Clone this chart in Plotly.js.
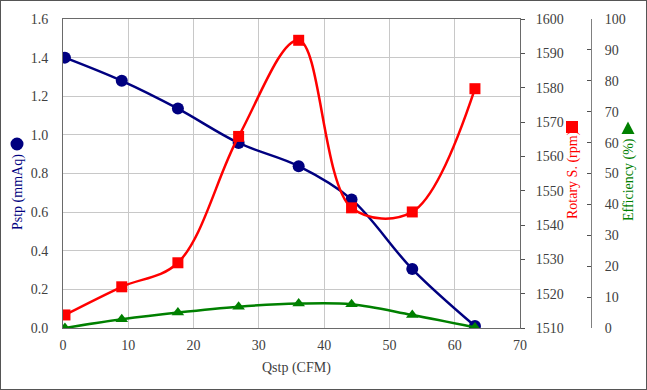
<!DOCTYPE html>
<html>
<head>
<meta charset="utf-8">
<script src="https://cdn.plot.ly/plotly-3.0.1.min.js"></script>
<style>
html,body{margin:0;padding:0;background:#fff;}
#wrap{position:relative;width:647px;height:390px;}
#chart{width:647px;height:390px;}
#frame{position:absolute;left:0;top:0;width:647px;height:390px;box-sizing:border-box;border:1px solid #555;pointer-events:none;}
</style>
</head>
<body>
<div id="wrap"><div id="chart"></div><div id="frame"></div></div>
<script>
// Data
const qstp = [0.3, 9.0, 17.6, 26.9, 36.1, 44.2, 53.5, 63.1];
const pstp = [1.40, 1.28, 1.136, 0.958, 0.838, 0.666, 0.305, 0.01];
const rotary = [1513.8, 1522.0, 1529.0, 1565.8, 1593.8, 1545.0, 1543.8, 1579.7];
const efficiency = [0, 2.8, 5.0, 6.9, 7.9, 7.7, 4.2, 0.2];

const xTicks = [0, 10, 20, 30, 40, 50, 60, 70];
const pTicks = [0, 0.2, 0.4, 0.6, 0.8, 1.0, 1.2, 1.4, 1.6];
const rTicks = [1510, 1520, 1530, 1540, 1550, 1560, 1570, 1580, 1590, 1600];
const eTicks = [0, 10, 20, 30, 40, 50, 60, 70, 80, 90, 100];

const NAVY = '#000080', RED = '#ff0000', GREEN = '#008000';
const FONT = 'Liberation Serif';
const tf = () => ({family: FONT, size: 14, color: '#404040'});

const traces = [
  {x: qstp, y: pstp, yaxis: 'y', type: 'scatter', mode: 'lines+markers', name: 'Pstp',
   line: {color: NAVY, width: 2.5, shape: 'spline', smoothing: 1},
   marker: {symbol: 'circle', size: 12, color: NAVY}},
  {x: qstp, y: rotary, yaxis: 'y2', type: 'scatter', mode: 'lines+markers', name: 'Rotary S.',
   line: {color: RED, width: 2.5, shape: 'spline', smoothing: 1},
   marker: {symbol: 'square', size: 11, color: RED}},
  {x: qstp, y: efficiency, yaxis: 'y3', type: 'scatter', mode: 'lines+markers', name: 'Efficiency',
   line: {color: GREEN, width: 2.5, shape: 'spline', smoothing: 1},
   marker: {symbol: 'triangle-up', size: 11, color: GREEN}}
];

const L = 63, R = 47, T = 19, B = 62, W = 647, H = 390;
const PW = W - L - R, PH = H - T - B;
const px = v => (v - L) / PW;
const py = v => (H - B - v) / PH;

const layout = {
  width: W, height: H,
  margin: {l: L, r: R, t: T, b: B, pad: 0},
  paper_bgcolor: '#fff', plot_bgcolor: '#fff',
  showlegend: false,
  font: {family: FONT, size: 14, color: '#404040'},
  xaxis: {
    domain: [0, (520 - L) / PW], range: [0, 70], tickvals: xTicks, ticktext: xTicks.map(String),
    showgrid: true, gridcolor: '#c8c8c8', gridwidth: 1, zeroline: false,
    showline: true, linecolor: '#6a6a6a', linewidth: 1, mirror: true,
    ticks: '', ticklabelstandoff: 4, tickfont: tf()
  },
  yaxis: {
    range: [0, 1.6], tickvals: pTicks, ticktext: pTicks.map(v => v.toFixed(1)),
    showgrid: true, gridcolor: '#c8c8c8', gridwidth: 1, zeroline: false,
    showline: true, linecolor: '#6a6a6a', linewidth: 1, mirror: true,
    ticks: '', ticklabelstandoff: 11, tickfont: tf()
  },
  yaxis2: {
    overlaying: 'y', side: 'right', anchor: 'x', range: [1510, 1600],
    tickvals: rTicks, ticktext: rTicks.map(String),
    showgrid: false, zeroline: false, showline: false,
    ticks: 'outside', ticklen: 4, tickcolor: '#505050', ticklabelstandoff: 8, tickfont: tf()
  },
  yaxis3: {
    overlaying: 'y', side: 'right', anchor: 'free', position: (591 - L) / PW, range: [0, 100],
    tickvals: eTicks, ticktext: eTicks.map(String),
    showgrid: false, zeroline: false, showline: true, linecolor: '#808080', linewidth: 1,
    ticks: 'inside', ticklen: 4, tickcolor: '#505050', ticklabelstandoff: 10, tickfont: tf()
  },
  annotations: [
    {text: 'Qstp (CFM)', xref: 'paper', yref: 'paper', x: px(296), y: py(368), showarrow: false,
     xanchor: 'center', yanchor: 'middle', font: {family: FONT, size: 14, color: '#404040'}},
    {text: 'Pstp (mmAq)', xref: 'paper', yref: 'paper', x: px(18), y: py(192), showarrow: false,
     textangle: -90, xanchor: 'center', yanchor: 'middle', font: {family: FONT, size: 14, color: NAVY}},
    {text: 'Rotary S. (rpm)', xref: 'paper', yref: 'paper', x: px(573), y: py(175), showarrow: false,
     textangle: -90, xanchor: 'center', yanchor: 'middle', font: {family: FONT, size: 14, color: RED}},
    {text: 'Efficiency (%)', xref: 'paper', yref: 'paper', x: px(629), y: py(180), showarrow: false,
     textangle: -90, xanchor: 'center', yanchor: 'middle', font: {family: FONT, size: 14, color: GREEN}}
  ],
  shapes: [
    {type: 'circle', xref: 'paper', yref: 'paper', xsizemode: 'pixel', ysizemode: 'pixel',
     xanchor: px(17), yanchor: py(144), x0: -6.5, x1: 6.5, y0: -6.5, y1: 6.5,
     fillcolor: NAVY, line: {width: 0}},
    {type: 'rect', xref: 'paper', yref: 'paper', xsizemode: 'pixel', ysizemode: 'pixel',
     xanchor: px(572), yanchor: py(127), x0: -6, x1: 6, y0: -6, y1: 6,
     fillcolor: RED, line: {width: 0}},
    {type: 'path', xref: 'paper', yref: 'paper', xsizemode: 'pixel', ysizemode: 'pixel',
     xanchor: px(628), yanchor: py(128), path: 'M -6.5 -6 L 6.5 -6 L 0 6.5 Z',
     fillcolor: GREEN, line: {width: 0}}
  ]
};

Plotly.newPlot('chart', traces, layout, {displayModeBar: false, staticPlot: true});
</script>
</body>
</html>
